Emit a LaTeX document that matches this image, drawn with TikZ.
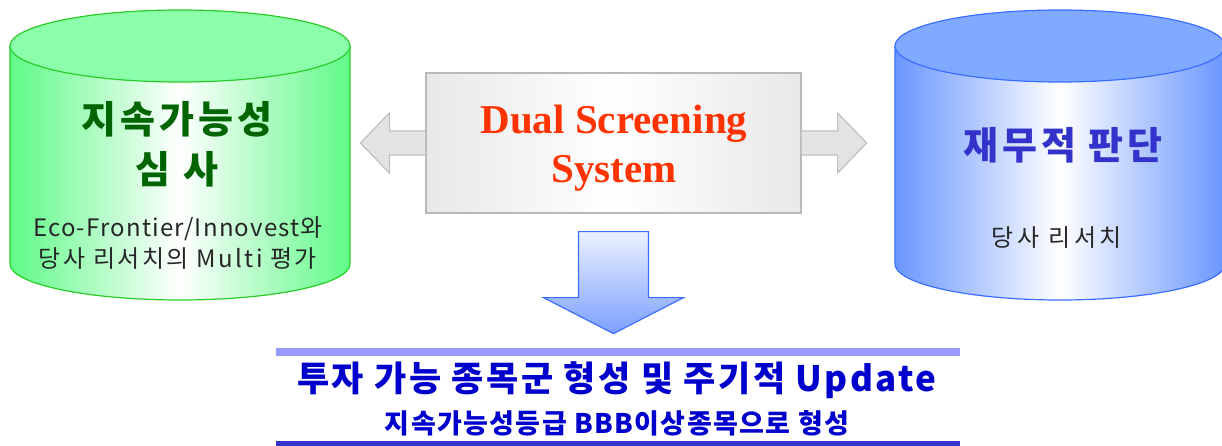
\documentclass[tikz,border=0pt]{standalone}
\usepackage{fontspec}
\setmainfont{Liberation Serif}
\newfontfamily\kr{Noto Sans CJK KR}
\usetikzlibrary{arrows.meta,positioning}
\definecolor{edgegrn}{RGB}{40,205,40}
\definecolor{sidegrn}{RGB}{95,250,135}
\definecolor{topgrn}{RGB}{140,255,170}
\definecolor{edgeblu}{RGB}{60,110,255}
\definecolor{sideblu}{RGB}{105,150,255}
\definecolor{topblu}{RGB}{128,170,255}
\definecolor{textgrn}{RGB}{0,100,0}
\definecolor{textblu}{RGB}{51,51,204}
\definecolor{dualred}{RGB}{255,51,0}
\definecolor{arrowblu}{RGB}{125,160,255}
\definecolor{barlight}{RGB}{153,153,255}
\definecolor{bardark}{RGB}{51,51,204}
\definecolor{navy}{RGB}{0,0,204}
\newcommand{\spaced}[1]{\addfontfeatures{LetterSpace=#1}}
\tikzset{
  db title/.style={
    font=\kr\bfseries\fontsize{19}{25}\selectfont\spaced{10},align=center
  },
  db note/.style={
    font=\kr\fontsize{12}{15.5}\selectfont,align=center,text=black!85
  },
  screen box/.style={
    draw=gray!55,line width=0.6pt,inner sep=0pt,
    minimum width=187.5pt,minimum height=70pt,
    left color=gray!18,right color=gray!18,middle color=white
  },
  block arrow/.style={
    draw=gray!50,line width=0.6pt,fill=gray!22,line join=miter
  },
  down arrow/.style={
    draw=edgeblu,line width=0.6pt,top color=white,bottom color=arrowblu
  }
}
\begin{document}
\begin{tikzpicture}[x=0.5pt,y=-0.5pt]
  \clip (0,0) rectangle (1222,445);

  \foreach \cx/\rx/\pal in {180/170/grn,1060/165/blu} {
    \path[draw=edge\pal,line width=0.6pt,
      left color=side\pal,right color=side\pal,middle color=white]
      (\cx-\rx,46) -- (\cx-\rx,264)
      arc[start angle=180,end angle=0,x radius=\rx,y radius=36]
      -- (\cx+\rx,46) -- cycle;
    \draw[edge\pal,line width=0.6pt,fill=top\pal]
      (\cx,46) ellipse[x radius=\rx,y radius=36];
  }

  \node[db title,text=textgrn] (sust) at (177,144) {지속가능성\\심 사};
  \node[db note] (sustnote) at (178,243)
    {{\spaced{5}Eco-Frontier/Innovest와}\\{\spaced{10}당사 리서치의 Multi 평가}};
  \node[db title,text=textblu] (fin) at (1063,145) {재무적 판단};
  \node[db note] (finnote) at (1057,238) {\spaced{15}당사 리서치};

  \node[screen box] (dual) at (613.5,143) {};
  \node[font=\bfseries\fontsize{20.5}{24.5}\selectfont,text=dualred,
    align=center] (dualtxt) at (614,148) {Dual Screening\\System};

  \draw[block arrow] (dual.west) ++(0,-12) -- ++(-36,0) -- ++(0,-18)
    -- ++(-29,30) -- ++(29,30) -- ++(0,-18) -- ++(36,0);
  \draw[block arrow] (dual.east) ++(0,-12) -- ++(36,0) -- ++(0,-18)
    -- ++(29,30) -- ++(-29,30) -- ++(0,-18) -- ++(-36,0);
  \draw[down arrow] (dual.south) ++(-35,18) -- ++(0,66) -- ++(-35,0)
    -- ++(70,36) -- ++(70,-36) -- ++(-35,0) -- ++(0,-66) -- cycle;

  \fill[barlight] (276,348) rectangle (960,356);
  \fill[bardark] (276,441) rectangle (960,446);
  \node[font=\kr\bfseries\fontsize{17.5}{20}\selectfont\spaced{7},text=navy]
    (pool) at (617,380) {투자 가능 종목군 형성 및 주기적 Update};
  \node[font=\kr\bfseries\fontsize{13.5}{16}\selectfont\spaced{5},text=navy]
    (grade) at (617,423) {지속가능성등급 BBB이상종목으로 형성};
\end{tikzpicture}
\end{document}
